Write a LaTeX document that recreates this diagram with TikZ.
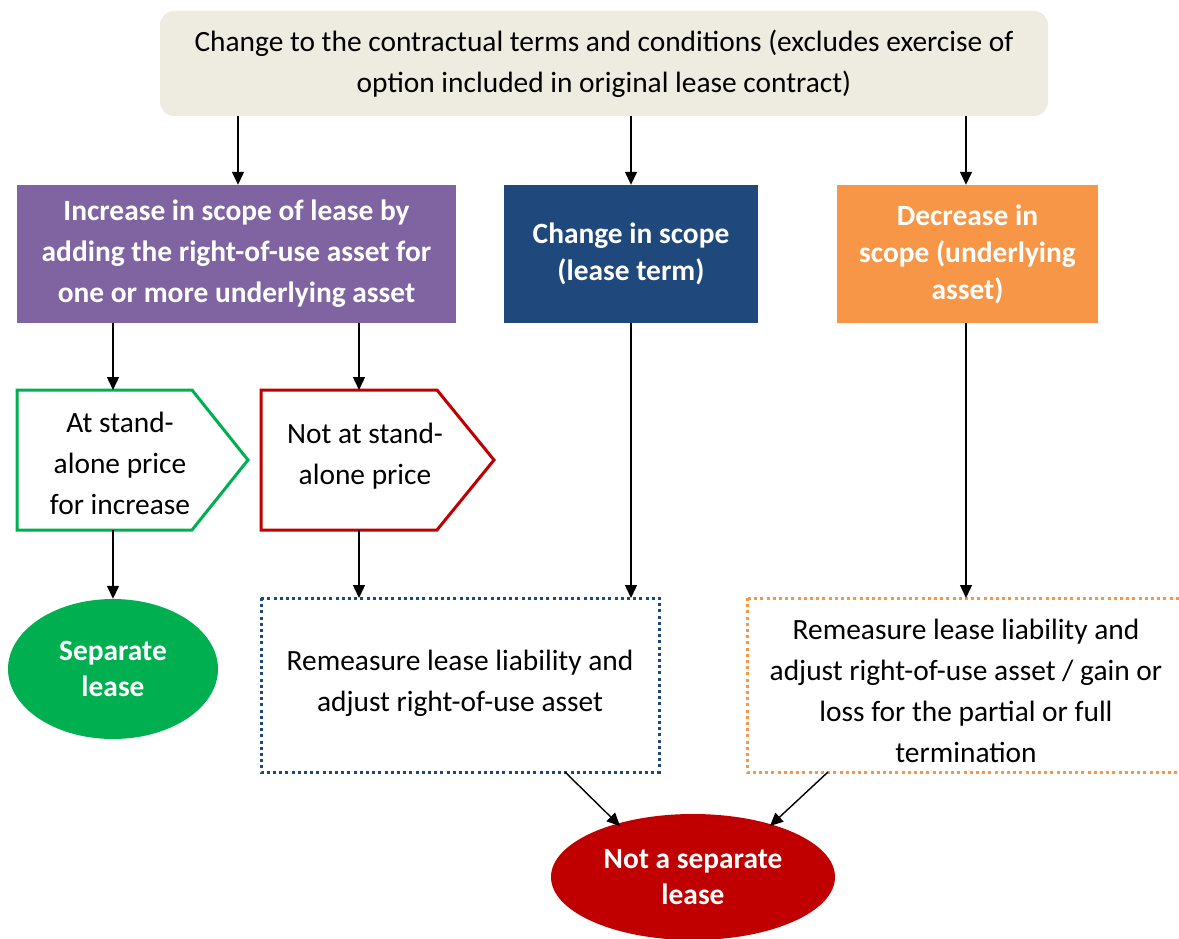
\documentclass[tikz,border=0pt]{standalone}
\usepackage{fontspec}
\setmainfont{Carlito}
\usetikzlibrary{arrows.meta,shapes.geometric}
\definecolor{beige}{HTML}{EEEBE0}
\definecolor{purp}{HTML}{8064A2}
\definecolor{navy}{HTML}{1F497D}
\definecolor{orng}{HTML}{F79646}
\definecolor{grn}{HTML}{00B050}
\definecolor{dred}{HTML}{C00000}
\begin{document}
\begin{tikzpicture}[x=1pt,y=-1pt,
  txt/.style={font=\fontsize{29.4}{41}\selectfont, align=center, inner sep=0pt},
  solidbox/.style={txt, fill=#1, text=white, font=\fontsize{29.4}{37}\selectfont\bfseries},
  arr/.style={line width=1.4pt, -{Triangle[length=13pt,width=12pt]}},
  dotbox/.style={draw=#1, line width=3pt, dash pattern=on 3pt off 3.2pt},
  pent/.style={draw=#1, line width=3pt, fill=white}]
\useasboundingbox (0,0) rectangle (1179,939);
% top box
\node[txt, fill=beige, rounded corners=14pt, minimum width=888pt, minimum height=105pt] (top) at (604,63.5)
  {Change to the contractual terms and conditions (excludes exercise of\\ option included in original lease contract)};
% second row
\node[solidbox=purp, minimum width=439pt, minimum height=138pt, font=\fontsize{29.4}{41}\selectfont\bfseries] (inc) at (236.5,254)
  {Increase in scope of lease by\\ adding the right-of-use asset for\\ one or more underlying asset};
\node[solidbox=navy, minimum width=254pt, minimum height=138pt] (chg) at (631,254)
  {Change in scope\\ (lease term)};
\node[solidbox=orng, minimum width=261pt, minimum height=138pt] (dec) at (967.5,254)
  {Decrease in\\ scope (underlying\\ asset)};
% pentagons
\draw[pent=grn] (17,390) -- (192,390) -- (248,460) -- (192,530) -- (17,530) -- cycle;
\node[txt] (atsa) at (120,463) {At stand-\\ alone price\\ for increase};
\draw[pent=dred] (261,390) -- (437,390) -- (494,460) -- (437,530) -- (261,530) -- cycle;
\node[txt] (notsa) at (365,456) {Not at stand-\\ alone price};
\coordinate (atsaN) at (113,390);
\coordinate (atsaS) at (113,530);
\coordinate (notsaN) at (359,390);
\coordinate (notsaS) at (359,530);
% green ellipse
\node[ellipse, fill=grn, minimum width=210pt, minimum height=140pt, inner sep=0pt, text=white, align=center,
  font=\fontsize{29.4}{36}\selectfont\bfseries] (sep) at (113,669) {Separate\\ lease};
% dotted boxes
\draw[dotbox=navy] (261,598) rectangle (659,772);
\node[txt] (rem1) at (460,683) {Remeasure lease liability and\\ adjust right-of-use asset};
\draw[dotbox=orng] (747,598) rectangle (1195,772);
\node[txt] (rem2) at (966,691) {Remeasure lease liability and\\ adjust right-of-use asset / gain or\\ loss for the partial or full\\ termination};
\coordinate (rem1N) at (359,598);
\coordinate (rem1Nb) at (631,598);
\coordinate (rem1S) at (565,772);
\coordinate (rem2N) at (966,598);
\coordinate (rem2S) at (828,772);
% red ellipse
\node[ellipse, fill=dred, minimum width=284pt, minimum height=126pt, inner sep=0pt, text=white, align=center,
  font=\fontsize{29.4}{36}\selectfont\bfseries] (notsep) at (693,877) {Not a separate\\ lease};
% arrows
\draw[arr] (top.south -| 238,0) -- (inc.north -| 238,0);
\draw[arr] (top.south -| chg.north) -- (chg.north);
\draw[arr] (top.south -| 966,0) -- (dec.north -| 966,0);
\draw[arr] (inc.south -| atsaN) -- (atsaN);
\draw[arr] (inc.south -| notsaN) -- (notsaN);
\draw[arr] (atsaS) -- (sep.north);
\draw[arr] (notsaS) -- (rem1N);
\draw[arr] (chg.south) -- (rem1Nb);
\draw[arr] (dec.south -| rem2N) -- (rem2N);
\draw[arr] (rem1S) -- (620,826);
\draw[arr] (rem2S) -- (770,826);
\end{tikzpicture}
\end{document}
